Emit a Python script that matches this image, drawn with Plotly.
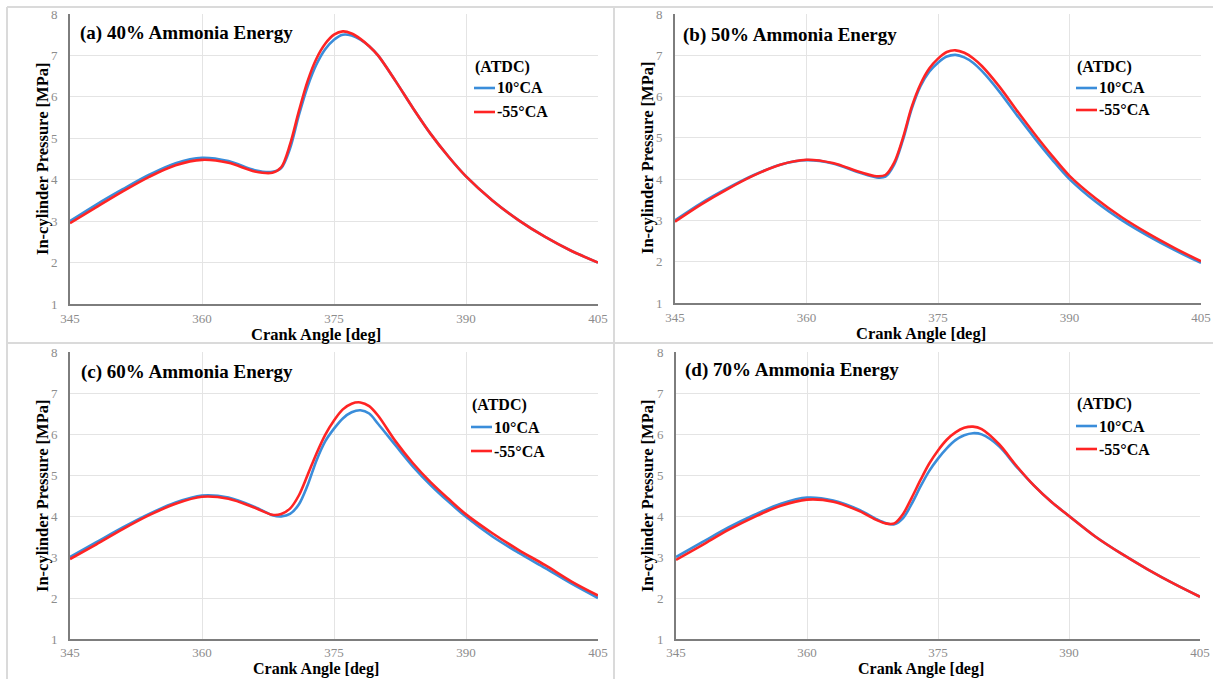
import plotly.graph_objects as go

# Crank angle grid [deg] shared by all four cases
crank_angle = [345, 348, 351, 354, 357, 360, 363, 366, 368, 369, 370, 371, 372, 373,
               374, 375, 376, 377, 378, 379, 380, 382, 384, 386, 388, 390, 393, 396,
               399, 402, 405]

# (a) 40% ammonia energy
p_a_10 = [3.00, 3.40, 3.77, 4.12, 4.40, 4.53, 4.45, 4.23, 4.19, 4.28, 4.75, 5.55, 6.25, 6.78,
          7.15, 7.38, 7.50, 7.48, 7.38, 7.22, 7.00, 6.38, 5.72, 5.10, 4.56, 4.08, 3.50, 3.02,
          2.62, 2.28, 2.00]
p_a_55 = [2.95, 3.34, 3.72, 4.07, 4.35, 4.48, 4.41, 4.20, 4.17, 4.30, 4.85, 5.65, 6.38, 6.92,
          7.28, 7.50, 7.58, 7.53, 7.40, 7.22, 7.00, 6.38, 5.72, 5.10, 4.56, 4.08, 3.50, 3.02,
          2.62, 2.28, 2.00]

# (b) 50% ammonia energy
p_b_10 = [3.00, 3.42, 3.78, 4.10, 4.35, 4.46, 4.38, 4.16, 4.04, 4.06, 4.35, 4.95, 5.70, 6.25,
          6.60, 6.82, 6.97, 7.01, 6.95, 6.82, 6.62, 6.12, 5.55, 5.00, 4.48, 4.00, 3.45, 3.00,
          2.62, 2.28, 1.97]
p_b_55 = [2.97, 3.39, 3.76, 4.09, 4.35, 4.47, 4.39, 4.18, 4.07, 4.10, 4.40, 5.00, 5.75, 6.30,
          6.68, 6.92, 7.08, 7.12, 7.06, 6.93, 6.74, 6.24, 5.66, 5.10, 4.57, 4.08, 3.53, 3.07,
          2.68, 2.33, 2.01]

# (c) 60% ammonia energy
p_c_10 = [3.00, 3.36, 3.72, 4.05, 4.33, 4.50, 4.45, 4.22, 4.02, 3.99, 4.05, 4.28, 4.75, 5.35,
          5.82, 6.13, 6.38, 6.53, 6.58, 6.50, 6.25, 5.72, 5.20, 4.75, 4.35, 3.98, 3.50, 3.10,
          2.73, 2.35, 2.00]
p_c_55 = [2.95, 3.31, 3.68, 4.02, 4.30, 4.47, 4.42, 4.20, 4.03, 4.05, 4.18, 4.50, 5.00, 5.52,
          5.98, 6.33, 6.60, 6.74, 6.77, 6.68, 6.45, 5.82, 5.28, 4.82, 4.42, 4.04, 3.58, 3.17,
          2.80, 2.40, 2.06]

# (d) 70% ammonia energy
p_d_10 = [3.00, 3.36, 3.72, 4.03, 4.30, 4.45, 4.38, 4.15, 3.92, 3.83, 3.80, 3.95, 4.30, 4.72,
          5.10, 5.40, 5.65, 5.85, 5.97, 6.02, 5.99, 5.70, 5.20, 4.74, 4.34, 4.00, 3.50, 3.08,
          2.70, 2.35, 2.03]
p_d_55 = [2.93, 3.29, 3.66, 3.98, 4.25, 4.40, 4.35, 4.12, 3.90, 3.82, 3.82, 4.05, 4.45, 4.88,
          5.28, 5.60, 5.86, 6.04, 6.15, 6.18, 6.12, 5.75, 5.22, 4.74, 4.34, 4.00, 3.50, 3.08,
          2.70, 2.35, 2.03]

panel_titles = ["(a) 40% Ammonia Energy", "(b) 50% Ammonia Energy",
                "(c) 60% Ammonia Energy", "(d) 70% Ammonia Energy"]
series_names = ["10°CA", "-55°CA"]
legend_header = "(ATDC)"
x_ticks = [345, 360, 375, 390, 405]
y_ticks = [1, 2, 3, 4, 5, 6, 7, 8]
x_title = "Crank Angle [deg]"
y_title = "In-cylinder Pressure [MPa]"

W, H = 1213, 679
BLUE = "#3A8DDA"
RED = "#FF2424"
SERIF = "Liberation Serif"


def fx(px):
    return px / W


def fy(py):
    return 1 - py / H


# plot-area boxes in pixels: (left, right, top, bottom)
boxes = [(70, 598, 14, 304), (675, 1201, 14, 303),
         (70, 598, 352, 639), (676, 1200, 352, 639)]
data_sets = [(p_a_10, p_a_55), (p_b_10, p_b_55), (p_c_10, p_c_55), (p_d_10, p_d_55)]

# text anchor positions in pixels per panel
title_pos = [(78, 33), (681, 35), (79, 372), (683, 370)]
# x-title: (centre x, y, vertical anchor, font size)
xtitle_pos = [(316, 334, "middle", 16.5), (921, 333, "middle", 16.5),
              (316, 679, "bottom", 16), (921, 679, "bottom", 16)]
xtick_gap = [1, 1, 0, 0]
ytitle_pos = [(42, 159), (647, 158), (42, 496), (647, 496)]
legend_pos = [(473, 67, 88, 112), (1075, 67, 88, 110),
              (470, 405, 427, 451), (1075, 404, 426, 449)]

fig = go.Figure()
annotations = []
shapes = []

for i, (box, (s10, s55)) in enumerate(zip(boxes, data_sets)):
    n = "" if i == 0 else str(i + 1)
    xa, ya = "x" + n, "y" + n
    for vals, color, name in ((s10, BLUE, series_names[0]), (s55, RED, series_names[1])):
        fig.add_trace(go.Scatter(
            x=crank_angle, y=vals, mode="lines", name=name, showlegend=False,
            line=dict(color=color, width=2.6, shape="spline", smoothing=0.9),
            xaxis=xa, yaxis=ya))

    left, right, top, bottom = box
    axis_common = dict(showgrid=True, gridcolor="#e4e4e4", gridwidth=1, automargin=False,
                       zeroline=False, showline=True, linecolor="#7d7d7d", linewidth=2,
                       ticks="outside", tickcolor="rgba(0,0,0,0)",
                       tickfont=dict(family=SERIF, size=13, color="#8c8c8c"))
    fig.update_layout(**{
        "xaxis" + n: dict(domain=[fx(left), fx(right)], range=[345, 405],
                          tickvals=x_ticks, anchor=ya, ticklen=xtick_gap[i], **axis_common),
        "yaxis" + n: dict(domain=[fy(bottom), fy(top)], range=[1, 8],
                          tickvals=y_ticks, anchor=xa, ticklen=8, **axis_common),
    })

    tx, ty = title_pos[i]
    annotations.append(dict(x=fx(tx), y=fy(ty), xref="paper", yref="paper",
                            xanchor="left", yanchor="middle", showarrow=False,
                            text="<b>" + panel_titles[i] + "</b>",
                            font=dict(family=SERIF, size=19, color="black")))
    xx, xy, xanc, xsize = xtitle_pos[i]
    annotations.append(dict(x=fx(xx), y=fy(xy), xref="paper", yref="paper",
                            xanchor="center", yanchor=xanc, showarrow=False, borderpad=0,
                            text="<b>" + x_title + "</b>",
                            font=dict(family=SERIF, size=xsize, color="black")))
    yx, yy = ytitle_pos[i]
    annotations.append(dict(x=fx(yx), y=fy(yy), xref="paper", yref="paper",
                            xanchor="center", yanchor="middle", showarrow=False,
                            textangle=-90, text="<b>" + y_title + "</b>",
                            font=dict(family=SERIF, size=16.5, color="black")))

    lx, ly0, ly1, ly2 = legend_pos[i]
    annotations.append(dict(x=fx(lx), y=fy(ly0), xref="paper", yref="paper",
                            xanchor="left", yanchor="middle", showarrow=False,
                            text="<b>" + legend_header + "</b>",
                            font=dict(family=SERIF, size=16, color="black")))
    for ly, color, name in ((ly1, BLUE, series_names[0]), (ly2, RED, series_names[1])):
        shapes.append(dict(type="line", xref="paper", yref="paper",
                           x0=fx(lx + 1), x1=fx(lx + 22), y0=fy(ly), y1=fy(ly),
                           line=dict(color=color, width=2.6)))
        annotations.append(dict(x=fx(lx + 22), y=fy(ly), xref="paper", yref="paper",
                                xanchor="left", yanchor="middle", showarrow=False,
                                text="<b>" + name + "</b>",
                                font=dict(family=SERIF, size=16, color="black")))

# panel frames
frame = dict(color="#dadada", width=2)
shapes += [
    dict(type="line", xref="paper", yref="paper", x0=fx(7), x1=fx(7), y0=fy(7), y1=0, line=frame),
    dict(type="line", xref="paper", yref="paper", x0=fx(7), x1=1, y0=fy(7), y1=fy(7), line=frame),
    dict(type="line", xref="paper", yref="paper", x0=fx(614), x1=fx(614), y0=fy(7), y1=0, line=frame),
    dict(type="line", xref="paper", yref="paper", x0=fx(7), x1=1, y0=fy(343), y1=fy(343), line=frame),
]

fig.update_layout(width=W, height=H,
                  margin=dict(l=0, r=0, t=0, b=0, pad=0, autoexpand=False),
                  paper_bgcolor="white", plot_bgcolor="white",
                  annotations=annotations, shapes=shapes, showlegend=False)

fig.write_html("out.html")
